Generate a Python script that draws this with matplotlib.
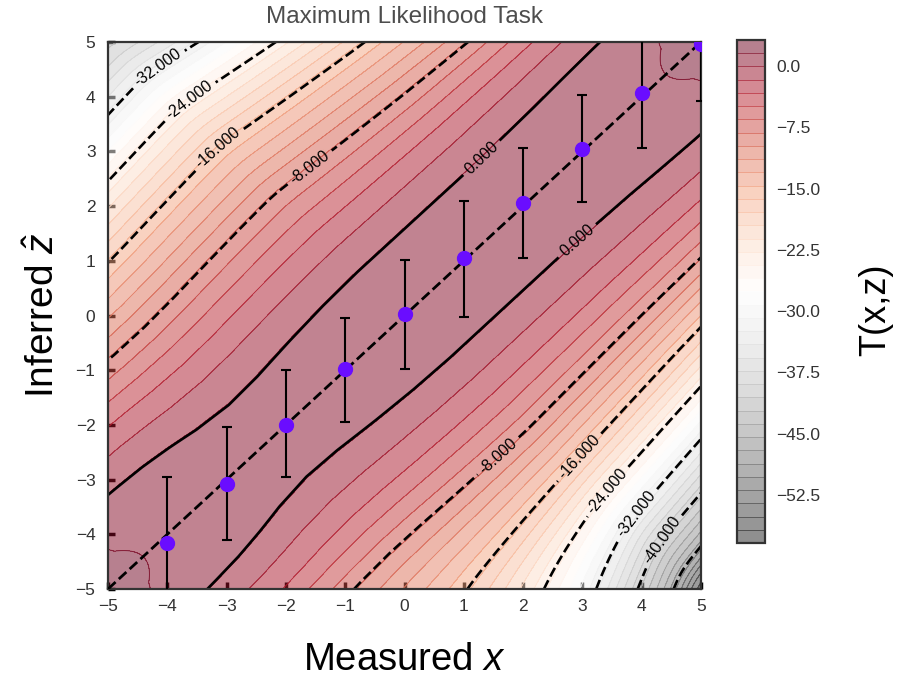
import numpy as np
import matplotlib
matplotlib.use('Agg')
import matplotlib.pyplot as plt

plt.rcParams['font.family'] = ['Liberation Sans', 'DejaVu Sans']
plt.rcParams['mathtext.fontset'] = 'custom'
plt.rcParams['mathtext.it'] = 'Liberation Sans:italic'
plt.rcParams['mathtext.rm'] = 'Liberation Sans'

# measured x, inferred z (max likelihood) and the error bar ends
x_meas = [-4, -3, -2, -1, 0, 1, 2, 3, 4, 5]
z_hat = [-4.16, -3.08, -2.0, -0.98, 0.02, 1.05, 2.05, 3.04, 4.07, 4.97]
z_low = [-5.2, -4.1, -2.96, -1.94, -0.97, -0.02, 1.06, 2.07, 3.06, 3.93]
z_high = [-2.96, -2.03, -1.0, -0.04, 1.02, 2.1, 3.06, 4.03, 5.1, 6.0]

up_d = [0, 0.5, 1.0, 1.65, 2.3, 3.0, 3.7, 4.44, 5.35, 6.24, 6.98, 7.65, 8.2, 8.75, 10]
up_T = [1.3, 1.18, 0.82, 0, -1.4, -3.1, -5.4, -8, -12, -16, -20, -24, -28, -32, -40]
lo_d = [0, 0.5, 1.0, 1.6, 2.2, 2.9, 3.5, 4.2, 4.9, 5.6, 6.15, 6.65, 7.12, 7.55, 8.0, 8.45, 8.95, 9.4, 10]
lo_T = [1.3, 1.18, 0.8, 0, -1.4, -3.1, -5.3, -8, -12, -16, -20, -24, -28, -32, -36, -40, -44, -48, -58.4]
# shift of T along the diagonal (s = (x+z)/2)
along_s = [-5, -4.8, -4.6, -4.4, -4.25, -4.0, -3.6, -3.2, -2.8, -2.3, -1.8, -1.2, -0.6, 0,
           2, 3, 3.5, 4.0, 4.22, 4.4, 4.6, 4.8, 5]
along_T = [1.9, 0.95, 0.5, 0.33, 0.27, 0.22, 0.12, -0.05, -0.25, -0.38, -0.33, -0.18, -0.06, 0,
           0, 0.1, 0.18, 0.25, 0.27, 0.33, 0.48, 0.95, 1.9]

T_min, T_max = -58.4, 3.2
bold_levels = [-56, -48, -40, -32, -24, -16, -8, 0]
cbar_ticks = [0.0, -7.5, -15.0, -22.5, -30.0, -37.5, -45.0, -52.5]


def smooth2d(a, sig):
    r = int(3 * sig)
    k = np.exp(-0.5 * (np.arange(-r, r + 1) / sig) ** 2)
    k /= k.sum()
    a = np.pad(a, r, mode='edge')
    a = np.apply_along_axis(lambda v: np.convolve(v, k, mode='valid'), 0, a)
    a = np.apply_along_axis(lambda v: np.convolve(v, k, mode='valid'), 1, a)
    return a


# grid (a bit wider than the plot so the smoothing has room)
xs = np.linspace(-5.5, 5.5, 441)
X, Z = np.meshgrid(xs, xs)
S = (X + Z) / 2
D = Z - X
AD = np.abs(D)

w_up = np.clip((AD - 1.5) / 2.5, 0, 1)
g_up = np.where(S >= 0, 0.045 * S, -0.015 * S)
d_up = AD * (1 + g_up * w_up)
w_lo = np.clip((AD - 4.2) / 4.2, 0, 1)
w_lo2 = np.clip((AD - 2.0) / 3.0, 0, 1)
d_lo = AD * np.where(S < 0, 1 + 0.1 * S * w_lo, 1 + 0.03 * S * w_lo2)

T = np.where(D >= 0, np.interp(d_up, up_d, up_T), np.interp(d_lo, lo_d, lo_T))
T = smooth2d(T, 8)
T = T + np.interp(S, along_s, along_T)

keep = (xs >= -5.0001) & (xs <= 5.0001)
X, Z, T = X[keep][:, keep], Z[keep][:, keep], T[keep][:, keep]

levels = np.linspace(T_min, T_max, 39)

fig = plt.figure(figsize=(8.97, 6.8), dpi=100)
ax = fig.add_axes([0.1204, 0.1338, 0.6611, 0.8044])
cax = fig.add_axes([0.8216, 0.2015, 0.0312, 0.7397])

cf = ax.contourf(X, Z, T, levels=levels, cmap='RdGy_r', alpha=0.5)
cl = ax.contour(X, Z, T, levels=levels, cmap='RdGy_r', linewidths=0.7, alpha=0.6)
cs = ax.contour(X, Z, T, levels=bold_levels, colors='k', linewidths=1.9)
label_pos = [(-4.17, 4.54), (-3.67, 3.99), (-3.16, 3.08), (-1.65, 2.78), (1.22, 2.97),
             (2.91, 1.37), (1.66, -2.66), (2.96, -2.6), (3.41, -3.2), (3.92, -3.63), (4.2, -4.0)]
ax.clabel(cs, fmt='%1.3f', fontsize=11.5, manual=label_pos)

ax.plot([-5, 5], [-5, 5], 'k--', lw=2, zorder=4)
z_hat_a = np.array(z_hat)
yerr = [z_hat_a - np.array(z_low), np.array(z_high) - z_hat_a]
ax.errorbar(x_meas, z_hat, yerr=yerr, fmt='o', color='#6a0dff', ms=10,
            ecolor='k', elinewidth=1.5, capsize=3.5, capthick=1.5, zorder=5)

ax.set_xlim(-5, 5)
ax.set_ylim(-5, 5)
ax.set_xticks(range(-5, 6))
ax.set_yticks(range(-5, 6))
ax.set_axisbelow(True)
ax.tick_params(direction='in', length=5, width=2.5, color='k', labelsize=12.5,
               labelcolor='0.2')
ax.tick_params(axis='x', pad=7)
ax.tick_params(axis='y', pad=9)
for sp in ax.spines.values():
    sp.set_color('0.2')
    sp.set_linewidth(1.6)

ax.set_title('Maximum Likelihood Task', fontsize=17.5, color='0.3', pad=14)
ax.set_xlabel(r'Measured $x$', fontsize=27.5, labelpad=20)
ax.set_ylabel(r'Inferred $\hat{z}$', fontsize=28, labelpad=10)

cbar = fig.colorbar(cf, cax=cax)
cbar.add_lines(cl)
cbar.set_ticks(cbar_ticks)
cbar.ax.tick_params(length=0, labelsize=12.5, labelcolor='0.2', pad=8)
cbar.outline.set_edgecolor('0.2')
cbar.outline.set_linewidth(1.6)
cbar.set_label('T(x,z)', fontsize=26)
cbar.ax.yaxis.set_label_coords(4.32, 0.463)

fig.savefig('out.png', dpi=100)
